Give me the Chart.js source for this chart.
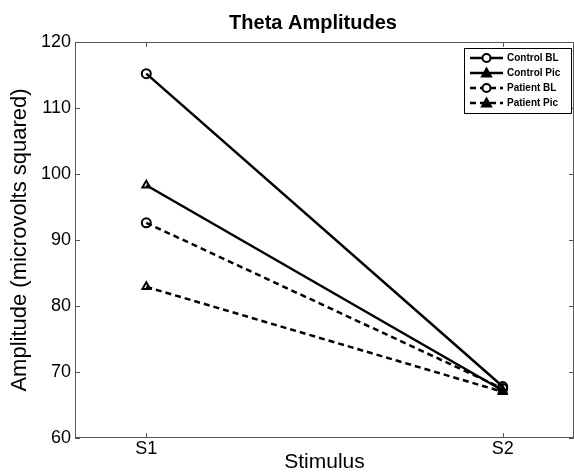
<!DOCTYPE html>
<html>
<head>
<meta charset="utf-8">
<script src="https://cdn.jsdelivr.net/npm/chart.js@4/dist/chart.umd.min.js"></script>
<style>
  body { margin: 0; background: #fff; overflow: hidden; }
  #wrap { width: 574px; height: 473px; }
</style>
</head>
<body>
<div id="wrap"><canvas id="theta-chart"></canvas></div>
<script>
// data
const stimuli = ["S1", "S2"];
const seriesNames = ["Control BL", "Control Pic", "Patient BL", "Patient Pic"];
const controlBL = [115.2, 67.8];
const controlPic = [98.3, 67.2];
const patientBL = [92.6, 67.5];
const patientPic = [82.9, 67.0];
const yTicks = [60, 70, 80, 90, 100, 110, 120];
const chartTitle = "Theta Amplitudes";

const seriesValues = [controlBL, controlPic, patientBL, patientPic];
const markers = ["circle", "triangle", "circle", "triangle"];
const dashed = [false, false, true, true];

const axisColor = "#555";
const fontFamily = "Arial, 'Liberation Sans', Helvetica, sans-serif";

function toPoints(values) {
  return values.map(function (v, i) {
    return { x: i + 1, y: v };
  });
}

// title, box round the axes, inward ticks and the matlab-style legend
const matlabFrame = {
  id: "matlabFrame",
  afterDraw(chart) {
    const c = chart.ctx;
    const a = chart.chartArea;
    const xs = chart.scales.x;
    const ys = chart.scales.y;
    c.save();

    c.fillStyle = "#000";
    c.font = "bold 20px " + fontFamily;
    c.textAlign = "center";
    c.textBaseline = "alphabetic";
    c.fillText(chartTitle, 313, 29);
    c.textAlign = "left";

    c.strokeStyle = axisColor;
    c.lineWidth = 1;
    c.strokeRect(a.left + 0.5, a.top + 0.5, a.right - a.left - 1, a.bottom - a.top - 1);
    c.beginPath();
    yTicks.forEach(function (t) {
      const y = Math.round(ys.getPixelForValue(t)) + 0.5;
      c.moveTo(a.left, y); c.lineTo(a.left + 5, y);
      c.moveTo(a.right, y); c.lineTo(a.right - 5, y);
    });
    stimuli.forEach(function (s, i) {
      const x = Math.round(xs.getPixelForValue(i + 1)) + 0.5;
      c.moveTo(x, a.bottom); c.lineTo(x, a.bottom - 5);
      c.moveTo(x, a.top); c.lineTo(x, a.top + 5);
    });
    c.stroke();

    // legend
    const bx = 464, by = 48, bw = 107, bh = 65;
    c.fillStyle = "#fff";
    c.fillRect(bx, by, bw, bh);
    c.strokeStyle = "#000";
    c.strokeRect(bx + 0.5, by + 0.5, bw, bh);
    c.font = "bold 10px " + fontFamily;
    c.textBaseline = "middle";
    chart.data.datasets.forEach(function (ds, i) {
      const y = by + 10 + i * 15;
      c.strokeStyle = "#000";
      c.lineWidth = 2.5;
      c.setLineDash(ds.borderDash || []);
      c.beginPath();
      c.moveTo(470, y); c.lineTo(503, y);
      c.stroke();
      c.setLineDash([]);
      c.lineWidth = 2;
      c.beginPath();
      if (ds.pointStyle === "circle") {
        c.arc(486.5, y, 4, 0, Math.PI * 2);
        c.fillStyle = "#fff";
        c.fill();
      } else {
        c.moveTo(486.5, y - 4.5);
        c.lineTo(491, y + 3.5);
        c.lineTo(482, y + 3.5);
        c.closePath();
        c.fillStyle = "#000";
        c.fill();
      }
      c.stroke();
      c.fillStyle = "#000";
      c.fillText(ds.label, 507, y + 0.5);
    });
    c.restore();
  },
};

document.addEventListener("DOMContentLoaded", function () {
  const ctx = document.getElementById("theta-chart").getContext("2d");
  new Chart(ctx, {
    type: "line",
    data: {
      datasets: seriesNames.map(function (name, i) {
        return {
          label: name,
          data: toPoints(seriesValues[i]),
          borderColor: "#000",
          borderWidth: 2.5,
          borderDash: dashed[i] ? [6, 4] : [],
          pointStyle: markers[i],
          pointRadius: 4.5,
          pointBorderWidth: 2,
          pointBorderColor: "#000",
          pointBackgroundColor: "rgba(255,255,255,0)",
          tension: 0,
          fill: false,
        };
      }),
    },
    options: {
      responsive: true,
      maintainAspectRatio: false,
      animation: false,
      layout: {
        autoPadding: false,
        padding: { top: 42, right: 0, left: 0, bottom: 0 },
      },
      scales: {
        x: {
          type: "linear",
          min: 0.8,
          max: 2.2,
          afterBuildTicks: function (scale) {
            scale.ticks = stimuli.map(function (s, i) { return { value: i + 1 }; });
          },
          afterFit: function (scale) {
            scale.height = 35;
            scale.paddingLeft = 0;
            scale.paddingRight = 0;
          },
          ticks: {
            padding: 2,
            color: "#000",
            font: { family: fontFamily, size: 18, lineHeight: 1 },
            callback: function (value) { return stimuli[value - 1] || ""; },
          },
          grid: { display: false, drawTicks: false },
          border: { display: false },
          title: {
            display: true,
            text: "Stimulus",
            color: "#000",
            padding: { top: 0, bottom: 0 },
            font: { family: fontFamily, size: 21, lineHeight: 1 },
          },
        },
        y: {
          min: 60,
          max: 120,
          afterBuildTicks: function (scale) {
            scale.ticks = yTicks.map(function (v) { return { value: v }; });
          },
          afterFit: function (scale) {
            scale.width = 75;
            scale.paddingTop = 0;
            scale.paddingBottom = 0;
          },
          ticks: {
            padding: 4,
            color: "#000",
            font: { family: fontFamily, size: 18 },
          },
          grid: { display: false, drawTicks: false },
          border: { display: false },
          title: {
            display: true,
            text: "Amplitude (microvolts squared)",
            color: "#000",
            padding: { top: 7, bottom: 0 },
            font: { family: fontFamily, size: 22, lineHeight: 1.2 },
          },
        },
      },
      plugins: {
        legend: { display: false },
        tooltip: { enabled: false },
        title: { display: false },
      },
    },
    plugins: [matlabFrame],
  });
});
</script>
</body>
</html>
